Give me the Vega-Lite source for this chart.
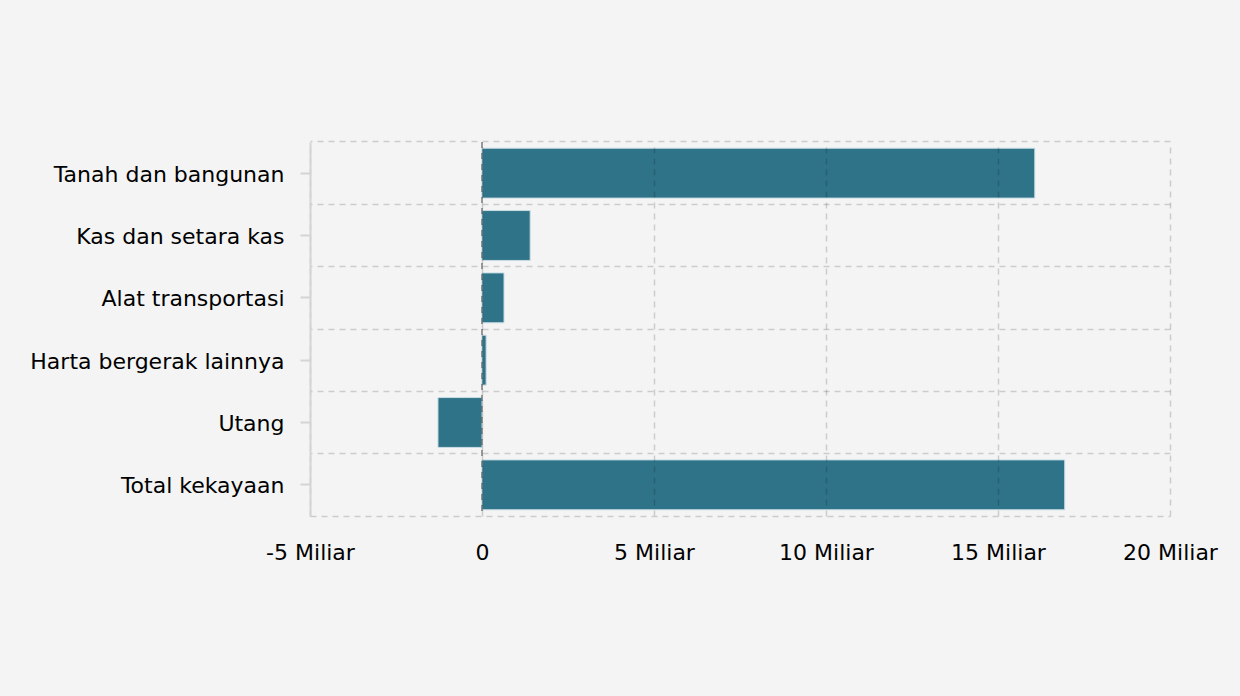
{
  "$schema": "https://vega.github.io/schema/vega-lite/v6.json",
  "width": 860,
  "height": 374,
  "autosize": {"type": "none"},
  "padding": {"left": 310, "top": 142, "right": 70, "bottom": 180},
  "background": "#f4f4f4",
  "config": {
    "view": {"stroke": null},
    "font": "DejaVu Sans",
    "axis": {"labelFont": "DejaVu Sans", "labelColor": "#000", "labelFontSize": 22}
  },
  "data": {
    "values": [
      {"kategori": "Tanah dan bangunan", "nilai": 16070000000},
      {"kategori": "Kas dan setara kas", "nilai": 1400000000},
      {"kategori": "Alat transportasi", "nilai": 640000000},
      {"kategori": "Harta bergerak lainnya", "nilai": 120000000},
      {"kategori": "Utang", "nilai": -1280000000},
      {"kategori": "Total kekayaan", "nilai": 16940000000}
    ]
  },
  "resolve": {"axis": {"y": "independent"}},
  "layer": [
    {
      "mark": {"type": "bar", "color": "#2f7388", "stroke": "#c8dde5", "strokeWidth": 1},
      "encoding": {
        "y": {
          "field": "kategori", "type": "nominal", "sort": null,
          "scale": {"paddingInner": 0.2, "paddingOuter": 0.1},
          "axis": {
            "title": null, "grid": false, "domain": true, "domainColor": "#d4d4d4", "domainWidth": 2,
            "ticks": true, "tickColor": "#d4d4d4", "tickSize": 10, "tickWidth": 2,
            "labelPadding": 16, "labelFontSize": 22, "labelLimit": 400, "labelOffset": 1.5, "zindex": 2
          }
        },
        "x": {
          "field": "nilai", "type": "quantitative",
          "scale": {"domain": [-5000000000, 20000000000], "nice": false},
          "axis": {
            "title": null, "values": [-5000000000, 0, 5000000000, 10000000000, 15000000000, 20000000000],
            "labelExpr": "datum.value == 0 ? '0' : (datum.value / 1000000000) + ' Miliar'",
            "labelFlush": false, "labelOverlap": false,
            "grid": true, "gridColor": "#000", "gridOpacity": 0.16, "gridDash": [6, 5], "gridWidth": 1.5,
            "ticks": false, "domain": true, "domainColor": "#cccccc", "domainDash": [6, 5], "domainWidth": 1.5,
            "labelPadding": 26, "labelFontSize": 22, "zindex": 1
          }
        }
      }
    },
    {
      "mark": {"type": "tick", "opacity": 0},
      "encoding": {
        "y": {
          "field": "kategori", "type": "nominal", "sort": null,
          "axis": {
            "title": null, "labels": false, "ticks": false, "domain": false,
            "grid": true, "bandPosition": -0.125, "gridColor": "#000", "gridOpacity": 0.16,
            "gridDash": [6, 5], "gridWidth": 1.5, "zindex": 1
          }
        },
        "x": {"field": "nilai", "type": "quantitative"}
      }
    },
    {
      "data": {"values": [{"nol": 0}]},
      "mark": {"type": "rule", "color": "#444", "opacity": 0.7, "strokeDash": [6, 5], "strokeWidth": 1.5},
      "encoding": {
        "x": {"field": "nol", "type": "quantitative"}
      }
    }
  ]
}
